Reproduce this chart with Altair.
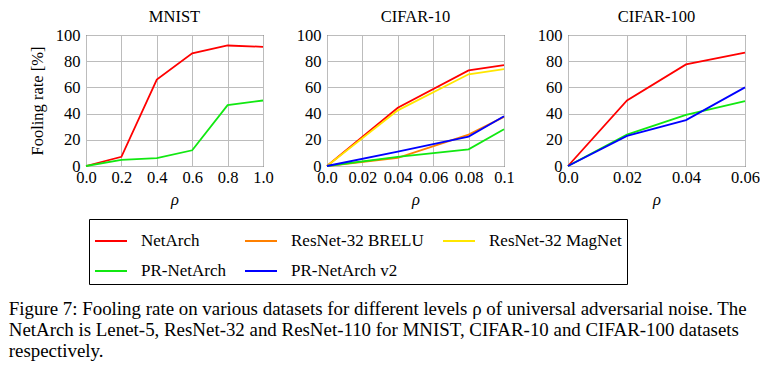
import altair as alt
import pandas as pd

# ---------------- data ----------------
MODELS = ["NetArch", "ResNet-32 BRELU", "ResNet-32 MagNet", "PR-NetArch", "PR-NetArch v2"]
COLORS = ["#ff0000", "#ff8000", "#ffe600", "#11e811", "#0000ff"]

mnist_rho = [0.0, 0.2, 0.4, 0.6, 0.8, 1.0]
mnist_netarch = [0, 7, 66, 86, 92, 91]
mnist_pr = [0, 4.6, 6, 12, 46.5, 50]

c10_rho = [0.0, 0.04, 0.08, 0.1]
c10_netarch = [0, 44.5, 73, 77]
c10_brelu = [0, 6.3, 24, 37.5]
c10_magnet = [0, 42.5, 70, 74]
c10_pr = [0, 7, 12.7, 28]
c10_prv2 = [0, 11, 22.5, 38]

c100_rho = [0.0, 0.02, 0.04, 0.06]
c100_netarch = [0, 50, 77.5, 86.5]
c100_pr = [0, 24, 39, 49.5]
c100_prv2 = [0, 23, 35, 60]

mnist_ticks = [0.0, 0.2, 0.4, 0.6, 0.8, 1.0]
c10_ticks = [0.0, 0.02, 0.04, 0.06, 0.08, 0.1]
c100_ticks = [0.0, 0.02, 0.04, 0.06]
y_ticks = [0, 20, 40, 60, 80, 100]

CAPTION = [
    "Figure 7:  Fooling rate on various datasets for different levels \u03c1 of universal adversarial noise. The",
    "NetArch is Lenet-5, ResNet-32 and ResNet-110 for MNIST, CIFAR-10 and CIFAR-100 datasets",
    "respectively.",
]

FONT = "Liberation Serif"


def long_table(rho, series):
    rows = []
    for name, vals in series:
        for r, v in zip(rho, vals):
            rows.append({"rho": r, "rate": v, "model": name})
    return pd.DataFrame(rows)


mnist_df = long_table(mnist_rho, [("NetArch", mnist_netarch), ("PR-NetArch", mnist_pr)])
c10_df = long_table(c10_rho, [("NetArch", c10_netarch), ("ResNet-32 BRELU", c10_brelu),
                              ("ResNet-32 MagNet", c10_magnet), ("PR-NetArch", c10_pr),
                              ("PR-NetArch v2", c10_prv2)])
c100_df = long_table(c100_rho, [("NetArch", c100_netarch), ("PR-NetArch", c100_pr),
                                ("PR-NetArch v2", c100_prv2)])


def panel(df, title, ticks, label_expr, y_title):
    y_kwargs = dict(values=y_ticks, labelPadding=6)
    if y_title:
        y_kwargs.update(title=y_title, titlePadding=10)
    else:
        y_kwargs.update(title="")
    return alt.Chart(df).mark_line(strokeWidth=1.8).encode(
        x=alt.X("rho:Q",
                scale=alt.Scale(domain=[ticks[0], ticks[-1]], nice=False, zero=False),
                axis=alt.Axis(values=ticks, labelExpr=label_expr, title="\u03c1",
                              titleFontStyle="italic", labelFlush=False,
                              labelOverlap=False, labelPadding=3, titlePadding=6)),
        y=alt.Y("rate:Q", scale=alt.Scale(domain=[0, 100], nice=False),
                axis=alt.Axis(**y_kwargs)),
        color=alt.Color("model:N", scale=alt.Scale(domain=MODELS, range=COLORS),
                        legend=alt.Legend(title=None, orient="none", legendX=3, legendY=184,
                                          columns=3, direction="horizontal")),
        order=alt.Order("rho:Q"),
    ).properties(
        width=177, height=131,
        title=alt.TitleParams(title, font=FONT, fontSize=16.5, fontWeight="normal",
                              color="black", offset=1.5),
    )


fmt2 = "datum.value == 0 ? '0.0' : format(datum.value, '.2~f')"
p1 = panel(mnist_df, "MNIST", mnist_ticks, "format(datum.value, '.1f')", "Fooling rate [%]")
p2 = panel(c10_df, "CIFAR-10", c10_ticks, fmt2, None)
p3 = panel(c100_df, "CIFAR-100", c100_ticks, fmt2, None)

chart = alt.hconcat(p1, p2, p3, spacing=64, bounds="flush").properties(
    padding={"left": 0, "top": 0, "right": 0, "bottom": 0},
    title=alt.TitleParams(CAPTION, orient="bottom", anchor="start", font=FONT, fontSize=18.9,
                          fontWeight="normal", color="black", lineHeight=21.3, offset=15,
                          dx=-20),
).configure_view(
    stroke="black", strokeWidth=1
).configure_axis(
    grid=True, gridColor="#bcbcbc", gridWidth=1, domain=False, ticks=False,
    labelFont=FONT, labelFontSize=16.5, labelColor="black",
    titleFont=FONT, titleFontSize=16.5, titleColor="black", titleFontWeight="normal",
).configure_legend(
    strokeColor="black", strokeWidth=1, padding=5, symbolType="stroke", symbolSize=1024,
    symbolStrokeWidth=2, labelFont=FONT, labelFontSize=17, labelColor="black",
    labelOffset=13, columnPadding=15, rowPadding=5, symbolOpacity=1,
)

chart.save("out.html", embed_options={"renderer": "svg", "actions": False})
